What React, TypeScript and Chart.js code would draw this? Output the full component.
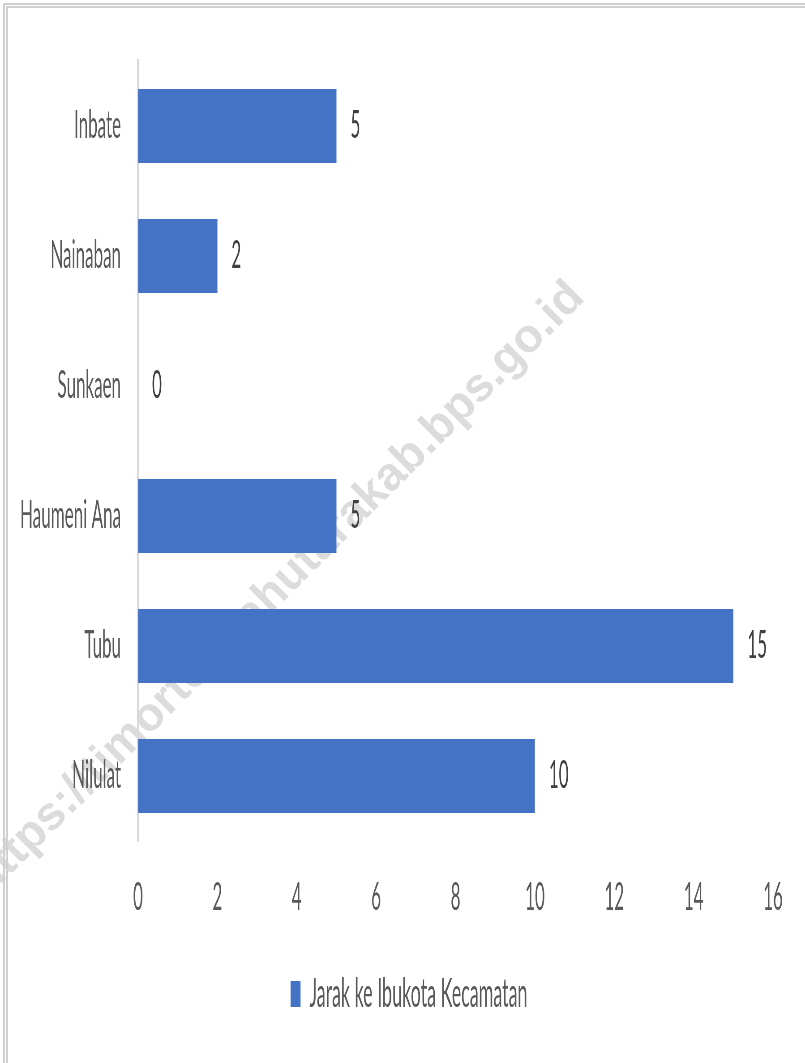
import React, { useEffect, useRef } from "react";
import { Chart, registerables } from "chart.js";

Chart.register(...registerables);

// ---- data ----
const categories: string[] = ["Inbate", "Nainaban", "Sunkaen", "Haumeni Ana", "Tubu", "Nilulat"];
const distances: number[] = [5, 2, 0, 5, 15, 10];
const seriesLabel = "Jarak ke Ibukota Kecamatan";
const xMin = 0;
const xMax = 16;
const xStep = 2;
const watermarkText = "https://timortengahutarakab.bps.go.id";

// ---- look ----
const PAGE_W = 805;
const PAGE_H = 1063;
const FONT = "Lato, 'Liberation Sans', sans-serif";
const FS = 38;
const LEGEND_FS = 40;

function squashFactor(): number {
  const c = document.createElement("canvas").getContext("2d");
  if (!c) return 0.46;
  c.font = `${FS}px ${FONT}`;
  const w = c.measureText("Haumeni Ana").width;
  return w > 0 ? 101 / w : 0.46;
}

export default function App() {
  const ref = useRef<HTMLCanvasElement | null>(null);

  useEffect(() => {
    document.body.style.margin = "0";
    const canvas = ref.current;
    if (!canvas) return;
    const k = squashFactor();
    canvas.width = Math.round(PAGE_W / k);
    canvas.height = PAGE_H;

    const watermark = {
      id: "watermark",
      beforeDraw(chart: any) {
        const ctx = chart.ctx as CanvasRenderingContext2D;
        ctx.save();
        ctx.scale(1 / k, 1);
        ctx.translate(287, 598);
        ctx.rotate(-Math.PI / 4);
        ctx.font = "bold 47px 'Liberation Sans', Arial, sans-serif";
        ctx.fillStyle = "#dcdcdc";
        ctx.textAlign = "center";
        ctx.textBaseline = "alphabetic";
        ctx.fillText(watermarkText, 0, 0);
        ctx.restore();
      },
    };

    const valueLabels = {
      id: "valueLabels",
      afterDatasetsDraw(chart: any) {
        const ctx = chart.ctx as CanvasRenderingContext2D;
        const meta = chart.getDatasetMeta(0);
        ctx.save();
        ctx.font = `${FS}px ${FONT}`;
        ctx.fillStyle = "#404040";
        ctx.textAlign = "left";
        ctx.textBaseline = "middle";
        meta.data.forEach((bar: any, i: number) => {
          const v = chart.data.datasets[0].data[i];
          ctx.fillText(String(v), bar.x + 14 / k, bar.y);
        });
        ctx.restore();
      },
    };

    const chart = new Chart(canvas, {
      type: "bar",
      data: {
        labels: categories,
        datasets: [
          {
            label: seriesLabel,
            data: distances,
            backgroundColor: "#4472C4",
            borderWidth: 0,
            barPercentage: 74 / 130,
            categoryPercentage: 1,
          },
        ],
      },
      options: {
        indexAxis: "y",
        responsive: false,
        animation: false,
        events: [],
        layout: {
          padding: { left: 13 / k, right: 0, top: 61, bottom: 39 },
        },
        scales: {
          x: {
            type: "linear",
            min: xMin,
            max: xMax,
            grid: { display: false, drawTicks: false },
            border: { display: false },
            ticks: {
              stepSize: xStep,
              color: "#595959",
              padding: 34,
              font: { family: FONT, size: FS },
            },
            afterFit(scale: any) {
              scale.height = 123;
              scale.paddingRight = 32 / k;
            },
          },
          y: {
            grid: { display: false, drawTicks: false },
            border: { display: true, color: "#d9d9d9", width: 2 / k },
            ticks: {
              color: "#595959",
              padding: 17 / k,
              font: { family: FONT, size: FS },
            },
            afterFit(scale: any) {
              scale.width = 125 / k;
            },
          },
        },
        plugins: {
          tooltip: { enabled: false },
          legend: {
            display: true,
            position: "bottom",
            labels: {
              boxWidth: 10 / k,
              boxHeight: 26,
              padding: 10,
              color: "#595959",
              font: { family: FONT, size: LEGEND_FS },
            },
          },
        },
      },
      plugins: [watermark, valueLabels],
    });

    return () => {
      chart.destroy();
    };
  }, []);

  return (
    <div style={{ position: "relative", width: PAGE_W, height: PAGE_H, overflow: "hidden", background: "#fff" }}>
      <canvas
        ref={ref}
        style={{ position: "absolute", left: 0, top: 0, width: `${PAGE_W}px`, height: `${PAGE_H}px`, display: "block" }}
      />
      <div
        style={{
          position: "absolute",
          left: 3,
          top: 3,
          width: PAGE_W,
          height: PAGE_H,
          borderLeft: "5px double #d0d0d0",
          borderTop: "5px double #d0d0d0",
          pointerEvents: "none",
        }}
      />
    </div>
  );
}
